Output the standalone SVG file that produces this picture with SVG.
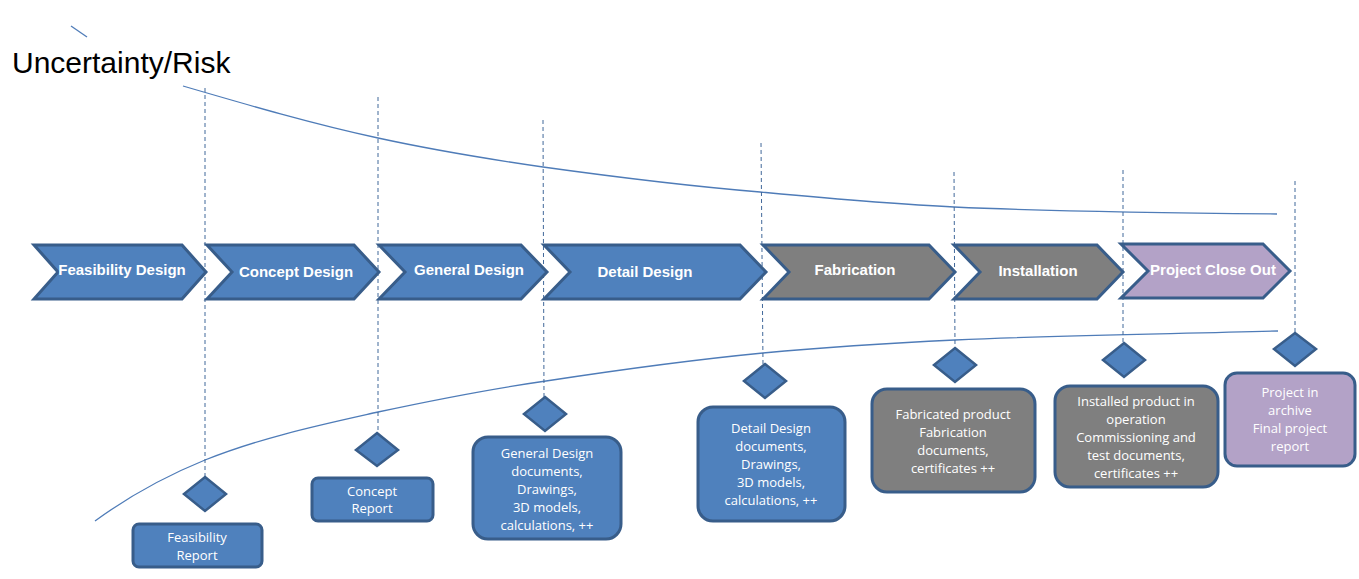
<svg xmlns="http://www.w3.org/2000/svg" width="1359" height="579" viewBox="0 0 1359 579">
<style>
.curve{fill:none;stroke:#4f7cb8;stroke-width:1.3}
.dash{fill:none;stroke:#41689a;stroke-width:1;stroke-dasharray:4 3}
.chev{stroke:#385d8a;stroke-width:3;stroke-linejoin:miter}
.blue{fill:#4f81bd}
.gray{fill:#7f7f7f}
.purple{fill:#b3a2c7}
.ctext{font-family:"Liberation Sans",Arial,sans-serif;font-weight:bold;font-size:15px;fill:#fff;text-anchor:middle}
.dia{fill:#4f81bd;stroke:#385d8a;stroke-width:2.5}
.box{stroke:#385d8a;stroke-width:3}
.btext{font-family:"Open Sans","Noto Sans",sans-serif;font-size:13px;fill:#fff;text-anchor:middle}
.title{font-family:"Liberation Sans",Arial,sans-serif;font-size:30px;fill:#000}
</style>
<rect width="1359" height="579" fill="#fff"/>
<text class="title" x="12" y="73">Uncertainty/Risk</text>
<g id="connectors">
<line class="curve" x1="71" y1="26" x2="87" y2="37"/>
<path class="curve" d="M183,86 C248,105 313,124 378,138 C433,150 488,159 543,167 C615,177 688,186 760,192 C825,198 889,204 954,207 C1062,212 1169,213 1277,214"/>
<path class="curve" d="M95,521 C132,494 168,475 205,460 C263,437 320,425 378,412 C434,400 490,389 546,381 C618,370 691,360 763,353 C827,347 891,343 955,340 C1063,335 1170,334 1278,331"/>
<line class="dash" x1="205" y1="88" x2="205" y2="477"/>
<line class="dash" x1="378" y1="97" x2="378" y2="433"/>
<line class="dash" x1="543" y1="120" x2="544" y2="397"/>
<line class="dash" x1="761" y1="143" x2="763" y2="364"/>
<line class="dash" x1="954" y1="172" x2="955" y2="348"/>
<line class="dash" x1="1123" y1="170" x2="1123" y2="343"/>
<line class="dash" x1="1295" y1="181" x2="1295" y2="333"/>
</g>
<g id="chev1"><polygon class="chev blue" points="34,245 182,245 206,272 182,299 34,299 58,272"/><text class="ctext" x="122" y="275">Feasibility Design</text></g>
<g id="chev2"><polygon class="chev blue" points="207,245 354,245 379,272 354,299 207,299 232,272"/><text class="ctext" x="296" y="277">Concept Design</text></g>
<g id="chev3"><polygon class="chev blue" points="379,245 521,245 547,272 521,299 379,299 405,272"/><text class="ctext" x="469" y="275">General Design</text></g>
<g id="chev4"><polygon class="chev blue" points="544,245 740,245 766,272 740,299 544,299 570,272"/><text class="ctext" x="645" y="277">Detail Design</text></g>
<g id="chev5"><polygon class="chev gray" points="763,245 929,245 955,272 929,299 763,299 789,272"/><text class="ctext" x="855" y="275">Fabrication</text></g>
<g id="chev6"><polygon class="chev gray" points="954,245 1097,245 1123,272 1097,299 954,299 980,272"/><text class="ctext" x="1038" y="276">Installation</text></g>
<g id="chev7"><polygon class="chev purple" points="1121,244 1263,244 1290,271 1263,298 1121,298 1148,271"/><text class="ctext" x="1213" y="275">Project Close Out</text></g>
<g id="dia1"><polygon class="dia" points="205,477 226,494 205,511 184,494"/></g>
<g id="dia2"><polygon class="dia" points="377,433 398,450 377,466 356,450"/></g>
<g id="dia3"><polygon class="dia" points="545,397 566,414 545,431 524,414"/></g>
<g id="dia4"><polygon class="dia" points="765,364 786,381 765,398 744,381"/></g>
<g id="dia5"><polygon class="dia" points="955,348 976,365 955,382 934,365"/></g>
<g id="dia6"><polygon class="dia" points="1124,343 1145,360 1124,377 1103,360"/></g>
<g id="dia7"><polygon class="dia" points="1295,333 1316,349 1295,366 1274,349"/></g>
<g id="box1"><rect class="box blue" x="133" y="524" width="129" height="43" rx="6"/><text class="btext" x="197" y="542">Feasibility</text><text class="btext" x="197" y="560">Report</text></g>
<g id="box2"><rect class="box blue" x="312" y="478" width="121" height="43" rx="6"/><text class="btext" x="372" y="496">Concept</text><text class="btext" x="372" y="513">Report</text></g>
<g id="box3"><rect class="box blue" x="473" y="437" width="148" height="102" rx="15"/><text class="btext" x="547" y="458">General Design</text><text class="btext" x="547" y="476">documents,</text><text class="btext" x="547" y="494">Drawings,</text><text class="btext" x="547" y="512">3D models,</text><text class="btext" x="547" y="530">calculations, ++</text></g>
<g id="box4"><rect class="box blue" x="698" y="407" width="147" height="114" rx="15"/><text class="btext" x="771" y="433">Detail Design</text><text class="btext" x="771" y="451">documents,</text><text class="btext" x="771" y="469">Drawings,</text><text class="btext" x="771" y="487">3D models,</text><text class="btext" x="771" y="505">calculations, ++</text></g>
<g id="box5"><rect class="box gray" x="872" y="389" width="163" height="103" rx="15"/><text class="btext" x="953" y="419">Fabricated product</text><text class="btext" x="953" y="437">Fabrication</text><text class="btext" x="953" y="455">documents,</text><text class="btext" x="953" y="473">certificates ++</text></g>
<g id="box6"><rect class="box gray" x="1055" y="386" width="163" height="101" rx="15"/><text class="btext" x="1136" y="406">Installed product in</text><text class="btext" x="1136" y="424">operation</text><text class="btext" x="1136" y="442">Commissioning and</text><text class="btext" x="1136" y="460">test documents,</text><text class="btext" x="1136" y="478">certificates ++</text></g>
<g id="box7"><rect class="box purple" x="1225" y="373" width="130" height="93" rx="12"/><text class="btext" x="1290" y="397">Project in</text><text class="btext" x="1290" y="415">archive</text><text class="btext" x="1290" y="433">Final project</text><text class="btext" x="1290" y="451">report</text></g>
</svg>
